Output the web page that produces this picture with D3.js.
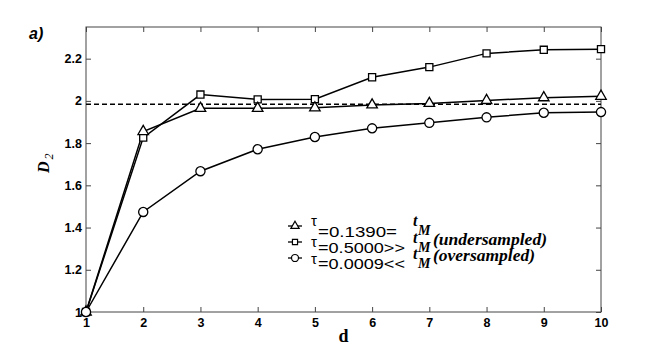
<!DOCTYPE html>
<html>
<head>
<meta charset="utf-8">
<script src="https://cdn.jsdelivr.net/npm/d3@7"></script>
<style>
  body { margin: 0; background: #fff; }
  .tick text { font-family: Arial, "Liberation Sans", sans-serif; font-weight: bold; font-size: 12.5px; fill: #000; }
</style>
</head>
<body>
<div id="chart"></div>
<script>
// data
var dims = [1, 2, 3, 4, 5, 6, 7, 8, 9, 10];
var tauMid = [1.0, 1.855, 1.965, 1.965, 1.967, 1.981, 1.988, 2.002, 2.015, 2.022];
var tauUnder = [1.0, 1.826, 2.03, 2.007, 2.008, 2.112, 2.160, 2.225, 2.242, 2.245];
var tauOver = [1.0, 1.474, 1.667, 1.771, 1.829, 1.870, 1.896, 1.922, 1.944, 1.947];
var refD2 = 1.984;
var yTicks = [1, 1.2, 1.4, 1.6, 1.8, 2, 2.2];
var legendValues = ["=0.1390=", "=0.5000>>", "=0.0009<<"];
var legendNotes = ["", "(undersampled)", "(oversampled)"];

var svgWidth = 664;
var svgHeight = 351;

var margin = { top: 27, right: 63, bottom: 39, left: 86 };
var width = svgWidth - margin.left - margin.right;
var height = svgHeight - margin.top - margin.bottom;

var svg = d3.select("#chart")
  .append("svg")
  .attr("width", svgWidth)
  .attr("height", svgHeight);

var g = svg.append("g")
  .attr("transform", `translate(${margin.left}, ${margin.top})`);

var xScale = d3.scaleLinear().domain([1, 10]).range([0, width]);
var yScale = d3.scaleLinear().domain([1, 2.35]).range([height, 0]);

// box with inward ticks on all sides
var axisColor = "#444";
function styleAxis(sel) {
  sel.select(".domain").remove();
  sel.selectAll(".tick line").attr("stroke", axisColor);
}

g.append("g")
  .attr("transform", `translate(0, ${height})`)
  .call(d3.axisBottom(xScale).tickValues(dims).tickFormat(d3.format("d")).tickSizeInner(-5).tickPadding(6))
  .call(styleAxis);

g.append("g")
  .call(d3.axisTop(xScale).tickValues(dims).tickFormat("").tickSizeInner(-5))
  .call(styleAxis);

g.append("g")
  .call(d3.axisLeft(yScale).tickValues(yTicks).tickFormat(d => d3.format("")(d)).tickSizeInner(-5).tickPadding(4))
  .call(styleAxis);

g.append("g")
  .attr("transform", `translate(${width}, 0)`)
  .call(d3.axisRight(yScale).tickValues(yTicks).tickFormat("").tickSizeInner(-5))
  .call(styleAxis);

g.append("rect")
  .attr("width", width)
  .attr("height", height)
  .attr("fill", "none")
  .attr("stroke", axisColor)
  .attr("stroke-width", 1);

// reference dashed line
g.append("line")
  .attr("x1", xScale(1))
  .attr("x2", xScale(10))
  .attr("y1", yScale(refD2))
  .attr("y2", yScale(refD2))
  .attr("stroke", "#000")
  .attr("stroke-width", 1.3)
  .attr("stroke-dasharray", "5,3");

var series = [
  { values: tauUnder, symbol: d3.symbolSquare, size: 50 },
  { values: tauMid, symbol: d3.symbolTriangle, size: 48 },
  { values: tauOver, symbol: d3.symbolCircle, size: 66 }
];

var line = d3.line()
  .x((d, i) => xScale(dims[i]))
  .y(d => yScale(d));

series.forEach(function(s) {
  g.append("path")
    .datum(s.values)
    .attr("d", line)
    .attr("fill", "none")
    .attr("stroke", "#000")
    .attr("stroke-width", 1.5);
});

series.forEach(function(s) {
  g.selectAll(null)
    .data(s.values)
    .enter()
    .append("path")
    .attr("d", d3.symbol().type(s.symbol).size(s.size))
    .attr("transform", (d, i) => `translate(${xScale(dims[i])}, ${yScale(d)})`)
    .attr("fill", "#fff")
    .attr("stroke", "#000")
    .attr("stroke-width", 1.3);
});

// legend
var legendSymbols = [d3.symbolTriangle, d3.symbolSquare, d3.symbolCircle];
var legendSizes = [30, 26, 38];
var rowY = [226, 242, 258];
var tauDy = [0, 5, 6];
var tDy = [0, 17, 33];
var valueLen = [79, 87, 87];
var noteLen = [0, 114, 102];

legendValues.forEach(function(v, i) {
  svg.append("line")
    .attr("x1", 288).attr("x2", 302)
    .attr("y1", rowY[i]).attr("y2", rowY[i])
    .attr("stroke", "#000").attr("stroke-width", 1.3);
  svg.append("path")
    .attr("d", d3.symbol().type(legendSymbols[i]).size(legendSizes[i]))
    .attr("transform", `translate(295, ${rowY[i]})`)
    .attr("fill", "#fff").attr("stroke", "#000").attr("stroke-width", 1.2);
  svg.append("text")
    .attr("x", 311).attr("y", 226 + i * 16 + tauDy[i])
    .style("font-family", "'Liberation Sans', Arial, sans-serif")
    .style("font-size", "15px")
    .text("τ");
  svg.append("text")
    .attr("x", 318).attr("y", 236.5 + i * 16)
    .attr("textLength", valueLen[i])
    .attr("lengthAdjust", "spacingAndGlyphs")
    .style("font-family", "'Liberation Sans', Arial, sans-serif")
    .style("font-size", "15.5px")
    .text(v);
  var ty = 226 + tDy[i];
  svg.append("text")
    .attr("x", 413).attr("y", ty)
    .style("font-family", "'Liberation Serif', 'Times New Roman', serif")
    .style("font-weight", "bold").style("font-style", "italic")
    .style("font-size", "16px")
    .text("t");
  svg.append("text")
    .attr("x", 418).attr("y", ty + 9)
    .style("font-family", "'Liberation Serif', 'Times New Roman', serif")
    .style("font-weight", "bold").style("font-style", "italic")
    .style("font-size", "14px")
    .text("M");
  if (legendNotes[i]) {
    svg.append("text")
      .attr("x", 433).attr("y", ty + 2)
      .attr("textLength", noteLen[i])
      .attr("lengthAdjust", "spacingAndGlyphs")
      .style("font-family", "'Liberation Serif', 'Times New Roman', serif")
      .style("font-weight", "bold").style("font-style", "italic")
      .style("font-size", "16px")
      .text(legendNotes[i]);
  }
});

// axis labels
svg.append("text")
  .attr("x", margin.left + width / 2)
  .attr("y", 342)
  .attr("text-anchor", "middle")
  .style("font-family", "'Liberation Serif', 'Times New Roman', serif")
  .style("font-weight", "bold")
  .style("font-size", "18px")
  .text("d");

var yLabel = svg.append("text")
  .attr("transform", "translate(49, 173) rotate(-90)")
  .style("font-family", "'Liberation Serif', 'Times New Roman', serif")
  .style("font-weight", "bold")
  .style("font-style", "italic")
  .style("font-size", "16px");
yLabel.append("tspan").text("D");
yLabel.append("tspan")
  .attr("dy", 4)
  .attr("dx", 2)
  .style("font-size", "12px")
  .style("font-weight", "normal")
  .text("2");

svg.append("text")
  .attr("x", 29)
  .attr("y", 39)
  .style("font-family", "Arial, 'Liberation Sans', sans-serif")
  .style("font-weight", "bold")
  .style("font-style", "italic")
  .style("font-size", "16px")
  .text("a)");
</script>
</body>
</html>
